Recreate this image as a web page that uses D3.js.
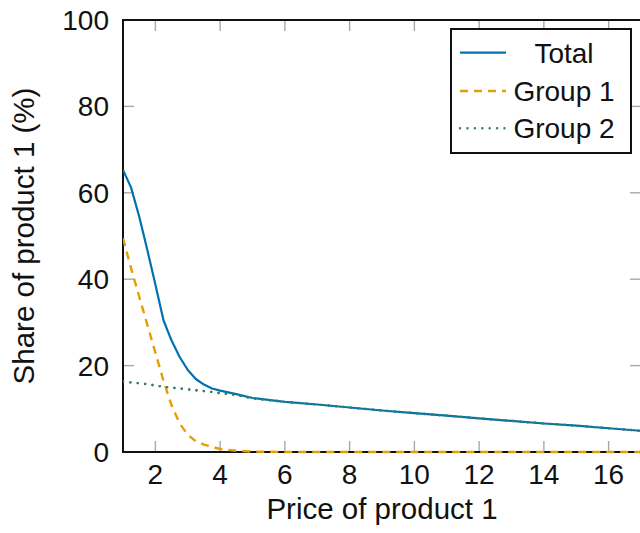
<!DOCTYPE html>
<html><head><meta charset="utf-8">
<script src="https://cdn.jsdelivr.net/npm/d3@7"></script>
<style>html,body{margin:0;padding:0;background:#fff;}svg{display:block;}</style>
</head><body>
<script>
const price  = [1,1.25,1.5,1.75,2,2.25,2.5,2.75,3,3.25,3.5,3.75,4,4.5,5,6,7,8,9,10,11,12,13,14,15,16,17];
const total  = [65.3,61.2,54.5,46.8,38.8,30.5,25.8,22.0,19.0,16.9,15.6,14.7,14.2,13.4,12.5,11.6,11.0,10.3,9.6,9.0,8.4,7.8,7.2,6.6,6.1,5.5,4.9];
const group1 = [49.5,42.5,36.0,29.5,23.0,16.5,10.8,6.6,4.0,2.5,1.7,1.2,0.7,0.3,0.1,0,0,0,0,0,0,0,0,0,0,0,0];
const group2 = [16.3,16.1,15.9,15.7,15.4,15.1,14.9,14.7,14.5,14.3,14.1,13.9,13.6,13.2,12.4,11.6,11.0,10.3,9.6,9.0,8.4,7.8,7.2,6.6,6.1,5.5,4.9];
const xTicks = [2,4,6,8,10,12,14,16];
const yTicks = [0,20,40,60,80,100];
const seriesNames = ["Total","Group 1","Group 2"];

const W = 640, H = 533;
const L = 123, R = 641, T = 20, B = 452;
const FONT = "'Liberation Sans', Arial, sans-serif";
const FS = 28, FT = 29.5;

const svg = d3.select("body").append("svg").attr("width", W).attr("height", H)
  .style("font-family", FONT);

const x = d3.scaleLinear().domain([1,17]).range([L,R]);
const y = d3.scaleLinear().domain([0,100]).range([B,T]);

const defs = svg.append("defs");
defs.append("clipPath").attr("id","clip").append("rect")
  .attr("x",L).attr("y",T-2).attr("width",R-L).attr("height",B-T+4);

// tick marks (inside, gray)
const tickCol = "#a8a8a8", tl = 11;
const gt = svg.append("g").attr("stroke",tickCol).attr("stroke-width",1.4);
xTicks.forEach(v=>{
  gt.append("line").attr("x1",x(v)).attr("x2",x(v)).attr("y1",B).attr("y2",B-tl);
  gt.append("line").attr("x1",x(v)).attr("x2",x(v)).attr("y1",T).attr("y2",T+tl);
});
yTicks.filter(v=>v>0&&v<100).forEach(v=>{
  gt.append("line").attr("x1",L).attr("x2",L+tl).attr("y1",y(v)).attr("y2",y(v));
  gt.append("line").attr("x1",R).attr("x2",R-tl).attr("y1",y(v)).attr("y2",y(v));
});

// frame
svg.append("rect").attr("x",L).attr("y",T).attr("width",R-L).attr("height",B-T)
  .attr("fill","none").attr("stroke","#111").attr("stroke-width",2);

// tick labels
svg.append("g").selectAll("text").data(xTicks).join("text")
  .attr("x",d=>x(d)).attr("y",484).attr("text-anchor","middle")
  .attr("font-size",FS).attr("fill","#111").text(d=>d);
svg.append("g").selectAll("text").data(yTicks).join("text")
  .attr("x",109).attr("y",d=>y(d)+10).attr("text-anchor","end")
  .attr("font-size",FS).attr("fill","#111").text(d=>d);

// axis titles
svg.append("text").attr("x",(L+R)/2).attr("y",519).attr("text-anchor","middle")
  .attr("font-size",FT).attr("fill","#111").text("Price of product 1");
svg.append("text").attr("transform",`translate(34,${(T+B)/2}) rotate(-90)`)
  .attr("text-anchor","middle").attr("font-size",FT).attr("fill","#111")
  .text("Share of product 1 (%)");

// lines
const styles = [
  {col:"#0072B2", w:2.2, dash:null, cap:"butt"},
  {col:"#E69F00", w:2.4, dash:"8,6", cap:"butt"},
  {col:"#3b8060", w:2.4, dash:"0.1,7.3", cap:"round"}
];
const data = [total, group1, group2];
const line = d3.line().x((d,i)=>x(price[i])).y(d=>y(d));
const gl = svg.append("g").attr("clip-path","url(#clip)");
[2,1,0].forEach(k=>{
  gl.append("path").datum(data[k]).attr("d",line).attr("fill","none")
    .attr("stroke",styles[k].col).attr("stroke-width",styles[k].w)
    .attr("stroke-dasharray",styles[k].dash).attr("stroke-linecap",styles[k].cap)
    .attr("stroke-linejoin","round");
});
gl.append("path").datum(group2).attr("d",line).attr("fill","none")
  .attr("stroke",styles[2].col).attr("stroke-width",styles[2].w)
  .attr("stroke-dasharray",styles[2].dash).attr("stroke-linecap","round");

// legend
const lg = svg.append("g");
lg.append("rect").attr("x",451).attr("y",29).attr("width",180).attr("height",124)
  .attr("fill","#fff").attr("stroke","#111").attr("stroke-width",2);
const rows = [52.7, 91, 128.3];
seriesNames.forEach((n,i)=>{
  lg.append("line").attr("x1",460).attr("x2",506).attr("y1",rows[i]).attr("y2",rows[i])
    .attr("stroke",styles[i].col).attr("stroke-width",styles[i].w)
    .attr("stroke-dasharray",styles[i].dash).attr("stroke-linecap",styles[i].cap);
  lg.append("text").attr("x",564).attr("y",rows[i]+10).attr("text-anchor","middle")
    .attr("font-size",FS).attr("fill","#111").text(n);
});
</script>
</body></html>
